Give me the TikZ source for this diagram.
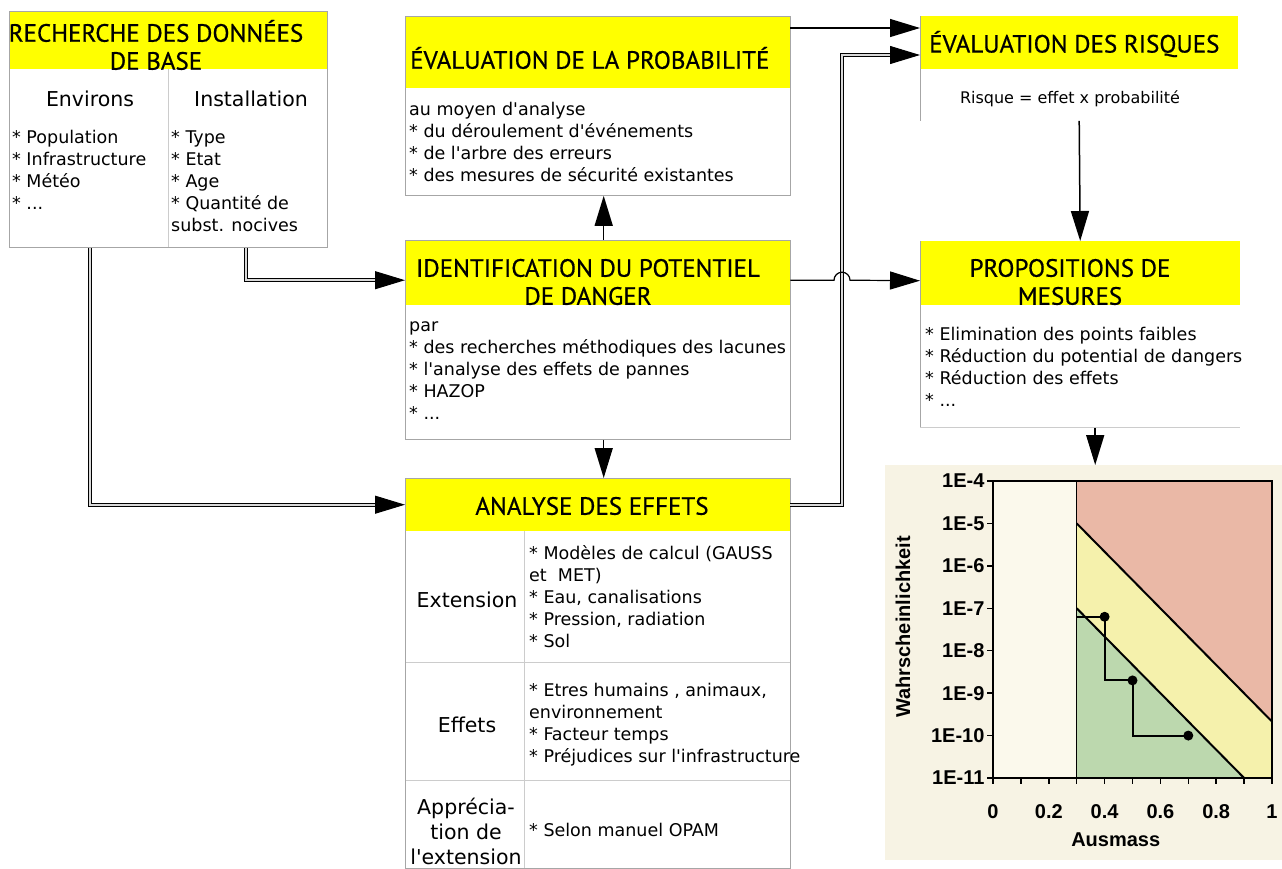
\documentclass[tikz,border=0pt]{standalone}
\usepackage{fontspec}
\setmainfont{DejaVu Sans}
\newfontfamily\titlefont{PT Sans}[FakeBold=0.6]
\newfontfamily\chartfont{Liberation Sans}
\usetikzlibrary{arrows.meta,positioning,calc}
\definecolor{boxyellow}{RGB}{255,255,0}
\definecolor{chartbg}{RGB}{247,243,228}
\definecolor{zonefree}{RGB}{251,249,236}
\definecolor{zonered}{RGB}{234,184,166}
\definecolor{zoneyellow}{RGB}{245,241,172}
\definecolor{zonegreen}{RGB}{188,216,174}
\newcommand{\ap}{\textquotesingle}
\tikzset{
  head/.style={fill=boxyellow,inner sep=0pt,anchor=north west},
  body/.style={fill=white,inner sep=0pt,anchor=north west},
  boxline/.style={draw=gray!70,line width=1pt},
  divline/.style={draw=gray!40,line width=0.8pt},
  title/.style={inner sep=0pt,align=center,font=\titlefont\fontsize{25}{28}\selectfont},
  colhead/.style={inner sep=0pt,align=center,font=\fontsize{20.5}{25}\selectfont},
  txt/.style={inner sep=0pt,anchor=north west,align=left,font=\fontsize{17.5}{22}\selectfont,execute at begin node=\strut},
  arr/.style={-{Triangle[length=30pt,width=18pt]},line width=1.5pt},
  thinarr/.style={-{Triangle[length=30pt,width=18pt]},line width=1.2pt},
  dbl/.style={-{Triangle[length=30pt,width=18pt]},line width=1pt,double=gray!30,double distance=1.6pt},
  chartline/.style={line width=2pt}
}
\begin{document}
\begin{tikzpicture}[x=1pt,y=-1pt]
\useasboundingbox (0,0) rectangle (1282,868);

\node[head,minimum width=318,minimum height=58] (recH) at (9,11) {};
\node[body,minimum width=318,minimum height=178] (recB) at (recH.south west) {};
\draw[divline] (recB.north) -- (recB.south);
\draw[boxline] (recH.north west) rectangle (recB.south east);
\node[title] (recT) at (156,45) {RECHERCHE DES DONNÉES\\DE BASE};
\node[colhead] (envT) at (90,99) {Environs};
\node[colhead] (instT) at (251,99) {Installation};
\node[txt] (envL) at (12,130) {* Population\\* Infrastructure\\* Météo\\* ...};
\node[txt] (instL) at (171,130) {* Type\\* Etat\\* Age\\* Quantité de\\subst. nocives};

\node[head,minimum width=385,minimum height=72] (probH) at (405,16) {};
\node[body,minimum width=385,minimum height=107] (probB) at (probH.south west) {};
\draw[boxline] (probH.north west) rectangle (probB.south east);
\node[title,anchor=west] (probT) at (410,58) {ÉVALUATION DE LA PROBABILITÉ};
\node[txt] (probL) at (409,102) {au moyen d\ap analyse\\* du déroulement d\ap événements\\* de l\ap arbre des erreurs\\* des mesures de sécurité existantes};

\node[head,minimum width=385,minimum height=65] (idH) at (405,240) {};
\node[body,minimum width=385,minimum height=134] (idB) at (idH.south west) {};
\draw[boxline] (idH.north west) rectangle (idB.south east);
\node[title] (idT) at (588,282) {IDENTIFICATION DU POTENTIEL\\DE DANGER};
\node[txt] (idL) at (409,321) {par\\* des recherches méthodiques des lacunes\\* l\ap analyse des effets de pannes\\* HAZOP\\* ...};

\node[head,minimum width=385,minimum height=53] (effH) at (405,478) {};
\node[body,minimum width=385,minimum height=337] (effB) at (effH.south west) {};
\draw[divline] (524,531) -- (524,868);
\draw[divline] (effB.west |- 0,662) -- (effB.east |- 0,662);
\draw[divline] (effB.west |- 0,780) -- (effB.east |- 0,780);
\draw[boxline] (effH.north west) rectangle (effB.south east);
\node[title] (effT) at (592,506) {ANALYSE DES EFFETS};
\node[colhead] (extT) at (467,600) {Extension};
\node[colhead] (effetT) at (467,725) {Effets};
\node[colhead] (appT) at (466,831) {Apprécia-\\tion de\\l\ap extension};
\node[txt] (extL) at (529,545) {* Modèles de calcul (GAUSS\\et~ MET)\\* Eau, canalisations\\* Pression, radiation\\* Sol};
\node[txt] (effL) at (529,683) {* Etres humains , animaux,\\environnement\\* Facteur temps\\* Préjudices sur l\ap infrastructure};
\node[txt] (appL) at (529,821) {* Selon manuel OPAM};

\node[head,minimum width=318,minimum height=53] (riskH) at (920,16) {};
\node[body,minimum width=318,minimum height=51] (riskB) at (riskH.south west) {};
\draw[boxline] (riskH.north west) -- (riskB.south west);
\node[title,anchor=west] (riskT) at (929,44) {ÉVALUATION DES RISQUES};
\node[font=\fontsize{16}{20}\selectfont] (riskL) at (1070,99) {Risque = effet x probabilité};

\node[head,minimum width=320,minimum height=64] (propH) at (920,241) {};
\node[body,minimum width=320,minimum height=122] (propB) at (propH.south west) {};
\draw[boxline] (propH.north west) -- (propB.south west);
\draw[divline] (propB.south west) -- (propB.south east);
\node[title] (propT) at (1070,282) {PROPOSITIONS DE\\MESURES};
\node[txt] (propL) at (925,327) {* Elimination des points faibles\\* Réduction du potential de dangers\\* Réduction des effets\\* ...};

\node[fill=chartbg,inner sep=0pt,anchor=north west,minimum width=397,minimum height=395] (chart) at (885,465) {};

\coordinate (bus) at (842,55);
\draw[dbl] (recB.south -| envT) |- (effH.west);
\draw[dbl] ($(recB.south -| instT)+(-5,0)$) |- ([yshift=-7.5pt]idH.west);
\draw[arr] ([xshift=6pt]idH.north) -- ([xshift=6pt]probB.south);
\draw[arr] ([xshift=6pt]idB.south) -- ([xshift=6pt]effH.north);
\draw[thinarr] ([yshift=-12pt]probH.north east) -- ([yshift=-12pt]riskH.north west);
\draw[dbl] (effH.east) -| (bus) -- (riskH.west |- bus);
\draw[thinarr] ([yshift=-7.5pt]idH.east) -- ($(bus |- idH.east)+(-8,7.5)$) arc[start angle=180,end angle=0,radius=8pt] -- ([yshift=-7.5pt]propH.west);
\draw[arr] (riskB.south) -- (propH.north);
\draw[arr] ([xshift=15pt]propB.south) -- ([xshift=15pt]propB.south |- chart.north);

\begin{scope}[shift={(993,778)},x=279pt,y=42.43pt,font=\chartfont\bfseries\fontsize{20}{22}\selectfont]
\fill[zonefree] (0,0) rectangle (0.3,7);
\fill[zonered] (0.3,7) -- (1,7) -- (1,1.33) -- (0.3,6) -- cycle;
\fill[zoneyellow] (0.3,6) -- (1,1.33) -- (1,0) -- (0.9,0) -- (0.3,4) -- cycle;
\fill[zonegreen] (0.3,4) -- (0.9,0) -- (0.3,0) -- cycle;
\draw[line width=1pt] (0.3,0) -- (0.3,7);
\draw[chartline] (0.3,6) -- (1,1.33);
\draw[chartline] (0.3,4) -- (0.9,0);
\draw[chartline] (0.3,3.8) -- (0.4,3.8) -- (0.4,2.3) -- (0.5,2.3) -- (0.5,1) -- (0.7,1);
\foreach \p in {(0.4,3.8),(0.5,2.3),(0.7,1)}
  \fill \p circle (5pt);
\draw[line width=1.8pt] (0,0) rectangle (1,7);
\foreach \k in {0,...,7}
  \draw[line width=1.5pt] (0,\k) -- (-0.022,\k);
\foreach \i in {0,...,10}
  \draw[line width=1.5pt] (\i/10,0) -- (\i/10,-0.14);
\foreach \k in {4,...,11}
  \node[anchor=east,inner sep=0pt] (ylab\k) at (-0.03,11-\k) {1E-\k};
\foreach \v [count=\n] in {0,0.2,0.4,0.6,0.8,1}
  \node (xlab\n) at (\v,-0.8) {\v};
\node (xtitle) at (0.44,-1.46) {Ausmass};
\node[rotate=90] (ytitle) at (-0.323,3.56) {Wahrscheinlichkeit};
\end{scope}
\end{tikzpicture}
\end{document}
